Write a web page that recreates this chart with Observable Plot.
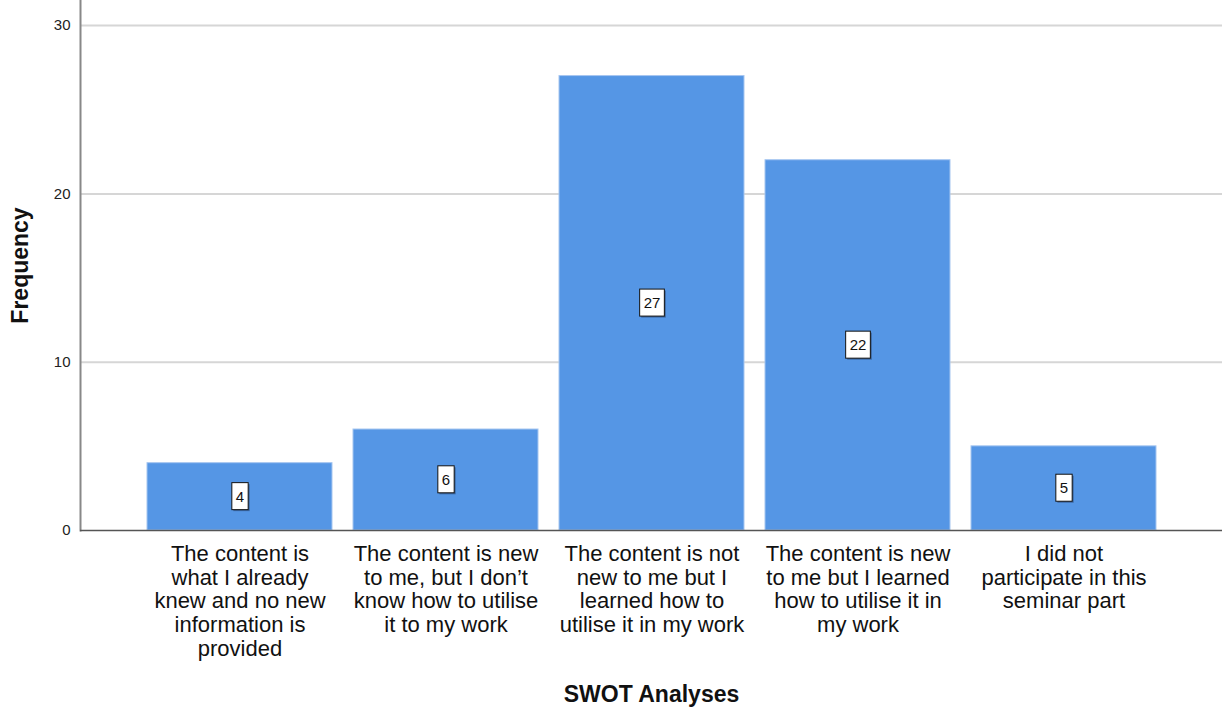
<!DOCTYPE html>
<html>
<head>
<meta charset="utf-8">
<script src="https://cdn.jsdelivr.net/npm/d3@7"></script>
<script src="https://cdn.jsdelivr.net/npm/@observablehq/plot@0.6"></script>
<style>
  html, body { margin: 0; padding: 0; background: #fff; }
  svg { display: block; }
</style>
</head>
<body>
<div id="chart"></div>
<script>
const categories = [
  "The content is\nwhat I already\nknew and no new\ninformation is\nprovided",
  "The content is new\nto me, but I don’t\nknow how to utilise\nit to my work",
  "The content is not\nnew to me but I\nlearned how to\nutilise it in my work",
  "The content is new\nto me but I learned\nhow to utilise it in\nmy work",
  "I did not\nparticipate in this\nseminar part"
];
const frequencies = [4, 6, 27, 22, 5];
const yTicks = [0, 10, 20, 30];
const gridTicks = [10, 20, 30];

const data = categories.map((c, i) => ({category: c, value: frequencies[i]}));

const font = "Liberation Sans, Arial, sans-serif";

const chart = Plot.plot({
  width: 1224,
  height: 711,
  marginTop: 0,
  marginLeft: 80,
  marginRight: 2,
  marginBottom: 181,
  style: {fontFamily: font, background: "#fff"},
  x: {domain: categories, range: [135.7, 1167], paddingInner: 0.1, paddingOuter: 0.05, label: null},
  y: {domain: [0, 31.49], label: null},
  marks: [
    Plot.ruleY(gridTicks, {stroke: "#d6d6d6", strokeWidth: 2}),
    Plot.barY(data, {x: "category", y: "value", fill: "#5596e5", stroke: "#a6c6f0", strokeWidth: 1}),
    Plot.frame({anchor: "left", stroke: "#888", strokeWidth: 2}),
    Plot.ruleY([0], {stroke: "#555", strokeWidth: 1.5}),
    Plot.axisY({ticks: yTicks, tickSize: 0, tickPadding: 10, fontSize: 15, fill: "#222", label: null}),
    Plot.axisX({tickSize: 0, tickPadding: 13, fontSize: 22, lineHeight: 1.09, fill: "#111", label: null, style: {letterSpacing: "-0.5px"}}),
    Plot.text(data, {
      x: "category",
      y: d => d.value / 2,
      text: d => String(d.value),
      fontSize: 15,
      fill: "#111",
      className: "vlabel"
    }),
    Plot.text(["Frequency"], {frameAnchor: "left", textAnchor: "middle", dx: -60, rotate: -90, fontSize: 23, fontWeight: "bold", fill: "#111"}),
    Plot.text(["SWOT Analyses"], {frameAnchor: "bottom", lineAnchor: "middle", dy: 164, fontSize: 23, fontWeight: "bold", fill: "#111"})
  ]
});

document.getElementById("chart").appendChild(chart);

// white boxes behind the value labels, sized from the rendered text
const svgNS = "http://www.w3.org/2000/svg";
chart.querySelectorAll(".vlabel text").forEach(t => {
  const b = t.getBBox();
  const padX = 4, padY = 5;
  const tr = t.getAttribute("transform");
  const shadow = document.createElementNS(svgNS, "rect");
  shadow.setAttribute("x", b.x - padX + 1.5);
  shadow.setAttribute("y", b.y - padY + 1.5);
  shadow.setAttribute("width", b.width + 2 * padX);
  shadow.setAttribute("height", b.height + 2 * padY);
  shadow.setAttribute("fill", "#2a4a78");
  shadow.setAttribute("opacity", "0.6");
  const r = document.createElementNS(svgNS, "rect");
  r.setAttribute("x", b.x - padX);
  r.setAttribute("y", b.y - padY);
  r.setAttribute("width", b.width + 2 * padX);
  r.setAttribute("height", b.height + 2 * padY);
  r.setAttribute("fill", "#fff");
  r.setAttribute("stroke", "#111");
  r.setAttribute("stroke-width", "1");
  if (tr) { shadow.setAttribute("transform", tr); r.setAttribute("transform", tr); }
  t.parentNode.insertBefore(shadow, t);
  t.parentNode.insertBefore(r, t);
});
</script>
</body>
</html>
